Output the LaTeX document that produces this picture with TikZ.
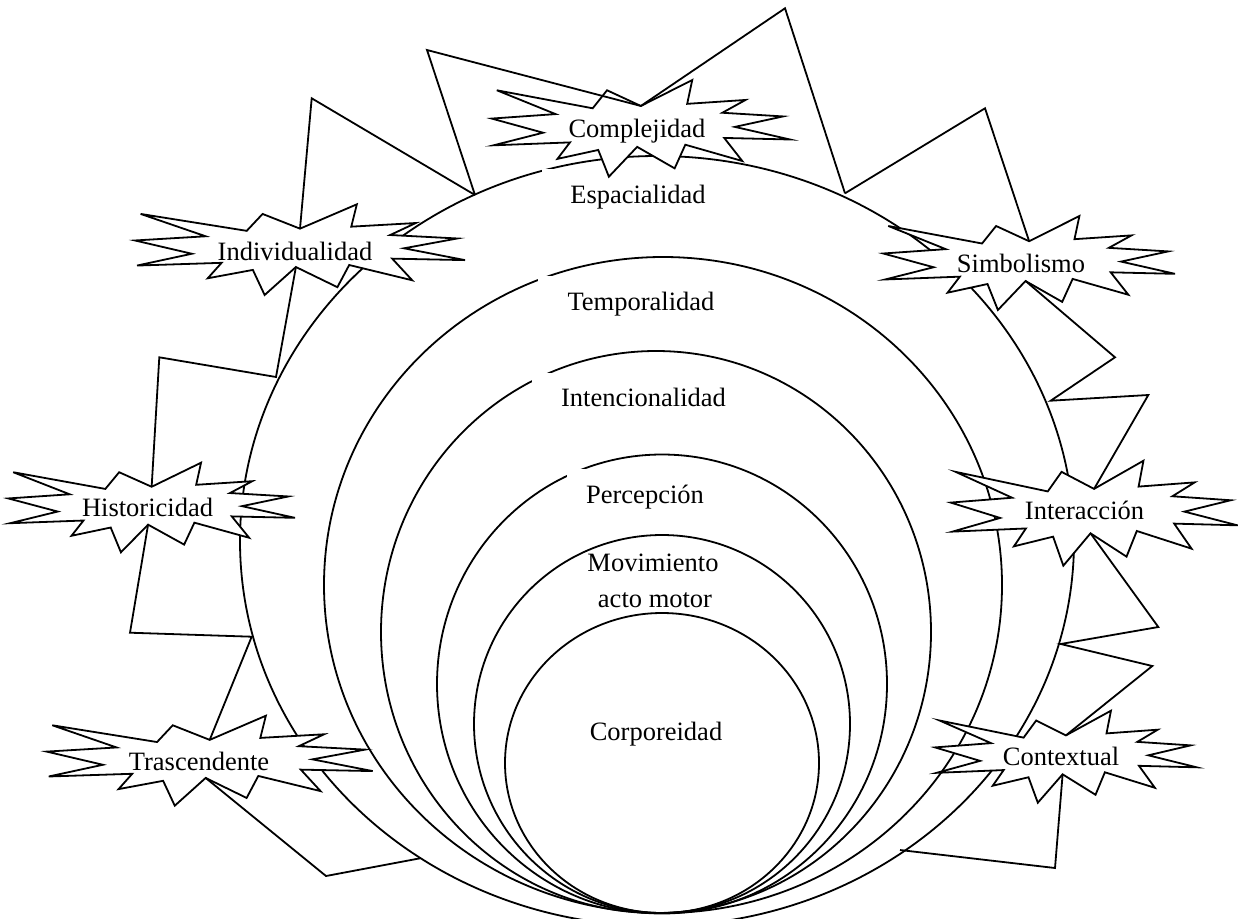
\documentclass[tikz,border=0pt]{standalone}
\usepackage{fontspec}
\setmainfont{Liberation Serif}
\newcommand\drawseal[5]{%
  \begin{scope}[shift={(#2,#3)}, xscale=#4, yscale=#5]
    \draw[seal] (0.5,0.26852) -- (0.67231,0) -- (0.65532,0.24653) -- (0.85093,0.20634)
      -- (0.77324,0.33866) -- (0.97671,0.37671) -- (0.81514,0.48495) -- (1,0.61528)
      -- (0.77949,0.59917) -- (0.84005,0.83773) -- (0.64907,0.66931) -- (0.61329,0.91375)
      -- (0.48759,0.69144) -- (0.39282,1) -- (0.35718,0.72347) -- (0.22046,0.81560)
      -- (0.26236,0.64523) -- (0.00625,0.67532) -- (0.17231,0.54514) -- (0,0.39884)
      -- (0.21421,0.35264) -- (0.01713,0.10625) -- (0.33852,0.29259) -- (0.38667,0.10625)
      -- cycle;
    \coordinate (#1-top) at (0.5,0.26852);
    \coordinate (#1-bot) at (0.48759,0.69144);
  \end{scope}}
\tikzset{
  ln/.style={line width=1.8pt, line join=miter},
  seal/.style={ln, fill=white},
  txt/.style={font=\fontsize{26.5}{31}\selectfont},
  lbl/.style={txt, anchor=base, inner sep=0pt},
  ringlabel/.style={txt, anchor=base, fill=white, text height=18pt, text depth=6pt, inner ysep=16pt},
}
\begin{document}
\begin{tikzpicture}[x=1pt,y=-1pt]
\useasboundingbox (0,0) rectangle (1238,918);
\clip (0,0) rectangle (1238,918);
% nested rings
\draw[ln] (657,541) ellipse [x radius=417pt, y radius=385pt];
\draw[ln] (663,585) ellipse [x radius=339pt, y radius=328pt];
\draw[ln] (656,632) ellipse [x radius=275pt, y radius=281pt];
\draw[ln] (662,684) ellipse [x radius=225pt, y radius=229.5pt];
\draw[ln] (662,724) ellipse [x radius=188pt, y radius=189pt];
\draw[ln] (662,763) ellipse [x radius=157pt, y radius=150pt];
% ring labels
\node[ringlabel, inner xsep=28pt] (espacialidad) at (638,203) {Espacialidad};
\node[ringlabel, inner xsep=29.5pt] (temporalidad) at (641,310) {Temporalidad};
\node[ringlabel, inner xsep=29pt] (intencionalidad) at (643.5,406.7) {Intencionalidad};
\node[ringlabel, inner xsep=19.5pt] (percepcion) at (645,503) {Percepción};
\node[lbl] (movimiento) at (653,571.7) {Movimiento};
\node[lbl] (actomotor) at (655,607) {acto motor};
\node[lbl] (corporeidad) at (656,740) {Corporeidad};
% explosion shapes
\drawseal{complejidad}{491.7}{80}{298.3}{96.7}
\drawseal{individualidad}{135}{204.3}{330}{90.7}
\drawseal{simbolismo}{883.3}{216}{291.7}{94}
\drawseal{historicidad}{8.3}{462.7}{286.7}{89.6}
\drawseal{interaccion}{950.7}{460.7}{286.7}{105}
\drawseal{trascendente}{46.7}{715.7}{326}{90}
\drawseal{contextual}{935}{710.7}{261.7}{92}
\node[lbl] (tcomplejidad) at (637,137) {Complejidad};
\node[lbl] (tindividualidad) at (295,260) {Individualidad};
\node[lbl] (tsimbolismo) at (1021,272.7) {Simbolismo};
\node[lbl] (thistoricidad) at (147.5,516.7) {Historicidad};
\node[lbl] (tinteraccion) at (1084.5,519) {Interacción};
\node[lbl] (ttrascendente) at (199,770.7) {Trascendente};
\node[lbl] (tcontextual) at (1061,765.7) {Contextual};
% connector waypoints
\coordinate (e1a) at (475,195);
\coordinate (e1b) at (845,193.3);
\coordinate (e1c) at (276,377);
\coordinate (e1d) at (251.7,636.7);
\coordinate (e1e) at (420,858.3);
\coordinate (e1f) at (1050.7,400.7);
\coordinate (e1g) at (1060.7,644);
\coordinate (e1h) at (900,850);
\coordinate (p1) at (427,50);
\coordinate (p2) at (785,8.3);
\coordinate (p3) at (311.7,98.3);
\coordinate (p4) at (159.3,357.3);
\coordinate (p5) at (130,632.7);
\coordinate (p6) at (326,876);
\coordinate (p7) at (985,108.3);
\coordinate (p8) at (1115,357.3);
\coordinate (p9) at (1148.3,395);
\coordinate (p10) at (1158.3,627);
\coordinate (p11) at (1152.3,666);
\coordinate (p12) at (1055,868);
% connectors
\draw[ln] (e1a) -- (p1) -- (complejidad-top);
\draw[ln] (complejidad-top) -- (p2) -- (e1b);
\draw[ln] (e1a) -- (p3) -- (individualidad-top);
\draw[ln] (individualidad-bot) -- (e1c) -- (p4) -- (historicidad-top);
\draw[ln] (historicidad-bot) -- (p5) -- (e1d) -- (trascendente-top);
\draw[ln] (trascendente-bot) -- (p6) -- (e1e);
\draw[ln] (e1b) -- (p7) -- (simbolismo-top);
\draw[ln] (simbolismo-bot) -- (p8) -- (e1f) -- (p9) -- (interaccion-top);
\draw[ln] (interaccion-bot) -- (p10) -- (e1g) -- (p11) -- (contextual-top);
\draw[ln] (contextual-bot) -- (p12) -- (e1h);
\end{tikzpicture}
\end{document}
